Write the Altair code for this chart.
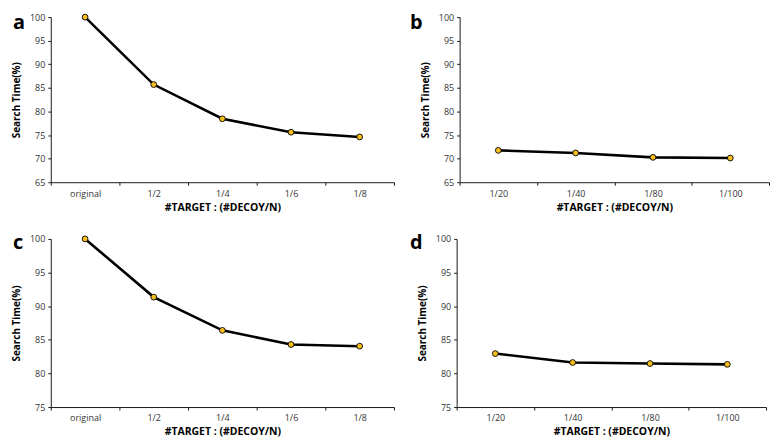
import altair as alt
import pandas as pd

# ---- data ----
cats_ac = ["original", "1/2", "1/4", "1/6", "1/8"]
cats_bd = ["1/20", "1/40", "1/80", "1/100"]
vals_a = [100.0, 85.7, 78.45, 75.6, 74.6]
vals_b = [71.75, 71.2, 70.27, 70.13]
vals_c = [100.0, 91.35, 86.4, 84.3, 84.05]
vals_d = [82.95, 81.62, 81.47, 81.35]
yticks_top = [65, 70, 75, 80, 85, 90, 95, 100]
yticks_bot = [75, 80, 85, 90, 95, 100]

FONT = "Open Sans"
AX = "#1a1a1a"
LBL = "#333333"


def panel(cats, vals, ticks, letter, width, height, lx, ly):
    df = pd.DataFrame({"cat": cats, "val": vals})
    x = alt.X(
        "cat:N",
        sort=cats,
        scale=alt.Scale(type="band", paddingInner=0, paddingOuter=0),
        axis=alt.Axis(
            title="#TARGET : (#DECOY/N)",
            labelAngle=0,
            tickBand="extent",
            tickSize=3,
            labelPadding=4,
            titlePadding=4,
            titleFontSize=10.5,
        ),
    )
    y = alt.Y(
        "val:Q",
        scale=alt.Scale(domain=[ticks[0], ticks[-1]], nice=False, zero=False),
        axis=alt.Axis(
            title="Search Time(%)",
            values=ticks,
            tickSize=3,
            labelPadding=3,
            titlePadding=8,
            titleFontSize=10,
            grid=False,
        ),
    )
    base = alt.Chart(df).encode(x=x, y=y)
    line = base.mark_line(color="black", strokeWidth=2.6)
    pts = base.mark_point(
        filled=True, fill="#F5BE1E", stroke="black", strokeWidth=0.9, size=34, opacity=1
    )
    lab = alt.Chart(pd.DataFrame({"t": [letter]})).mark_text(
        font=FONT, fontSize=20, fontWeight="bold", align="left", baseline="alphabetic", color="black"
    ).encode(text="t:N", x=alt.value(lx), y=alt.value(ly))
    return alt.layer(line, pts, lab).properties(width=width, height=height)


a = panel(cats_ac, vals_a, yticks_top, "a", 345, 166, -38, 12)
b = panel(cats_bd, vals_b, yticks_top, "b", 311, 166, -50, 12)
c = panel(cats_ac, vals_c, yticks_bot, "c", 345, 169, -38, 10)
d = panel(cats_bd, vals_d, yticks_bot, "d", 311, 169, -47, 10)

chart = (
    alt.vconcat(
        alt.hconcat(a, b, spacing=15),
        alt.hconcat(c, d, spacing=15),
        spacing=20,
    )
    .properties(
        padding={"left": 3, "top": 2, "right": 0, "bottom": 0},
        background="white",
    )
    .configure_view(stroke=None)
    .configure_axis(
        labelFont=FONT,
        titleFont=FONT,
        labelFontSize=9,
        titleFontWeight="bold",
        labelColor=LBL,
        titleColor="black",
        domainColor=AX,
        tickColor=AX,
        domainWidth=1,
        tickWidth=1,
    )
)

chart.save("out.html", embed_options={"renderer": "svg", "actions": False})
